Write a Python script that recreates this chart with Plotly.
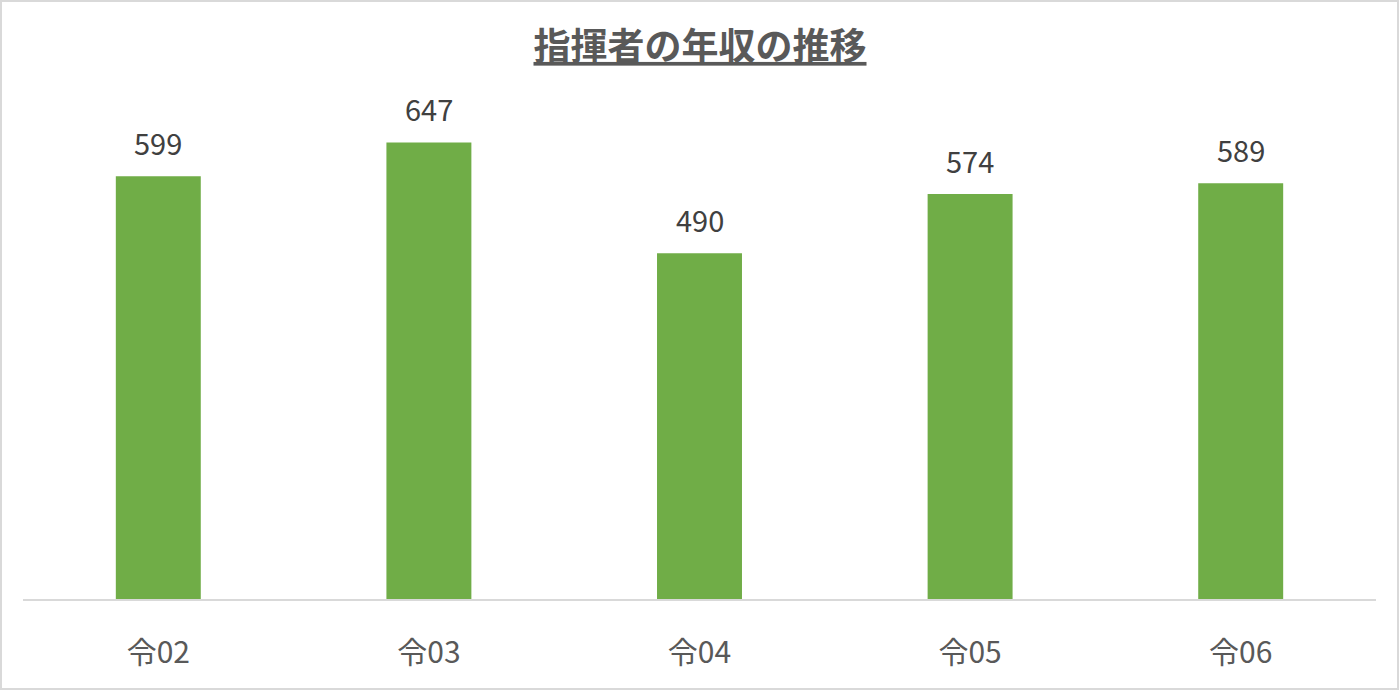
import plotly.graph_objects as go

categories = ["令02", "令03", "令04", "令05", "令06"]
values = [599, 647, 490, 574, 589]
title_text = "指揮者の年収の推移"

FONT = "Noto Sans CJK JP"

fig = go.Figure()
fig.add_trace(go.Bar(
    x=categories, y=values,
    marker=dict(color="#70AD47", line=dict(width=0)),
    width=0.314,
    hoverinfo="skip",
))
for c, v in zip(categories, values):
    fig.add_annotation(x=c, y=v, text=str(v), showarrow=False,
                       yanchor="bottom", yshift=11,
                       font=dict(family=FONT, size=29, color="#404040"))

fig.update_layout(
    width=1400, height=691,
    margin=dict(l=23, r=24, t=105, b=92),
    paper_bgcolor="white", plot_bgcolor="white",
    showlegend=False,
    title=dict(text="<b><u>" + title_text + "</u></b>", x=0.5, xanchor="center",
               y=1 - 47/691, yanchor="middle",
               font=dict(family=FONT, size=37, color="#595959")),
    xaxis=dict(showgrid=False, showline=True, linecolor="#D9D9D9", linewidth=2,
               ticks="", tickfont=dict(family=FONT, size=30, color="#595959"),
               ticklabelstandoff=26, fixedrange=True),
    yaxis=dict(range=[0, 700], visible=False, showgrid=False, fixedrange=True),
)
fig.add_shape(type="rect", xref="paper", yref="paper",
              x0=(1-23)/1353, x1=(1398-23)/1353,
              y0=(599-689)/494, y1=(599-1)/494,
              line=dict(color="#D9D9D9", width=2), fillcolor="rgba(0,0,0,0)", layer="below")

fig.write_html("out.html", config={"displayModeBar": False},
               post_script="document.body.style.margin='0px';document.body.style.padding='0px';")
